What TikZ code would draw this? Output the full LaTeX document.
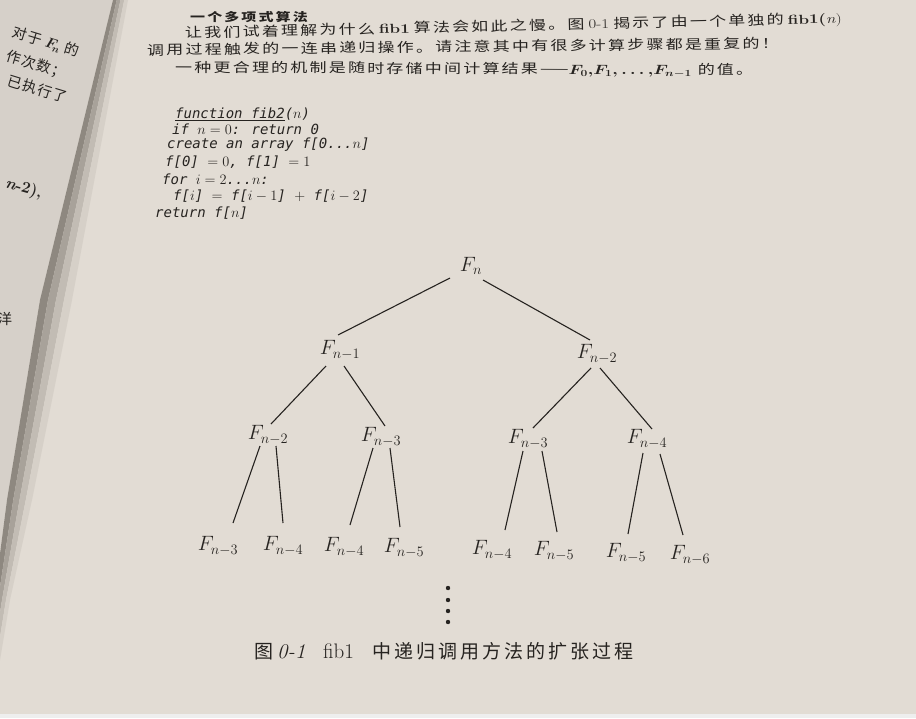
\documentclass[tikz,border=0pt]{standalone}
\usepackage{fontspec}
\newfontfamily\cjkbody[LetterSpace=13]{Noto Sans CJK SC}
\newfontfamily\cjktitle[LetterSpace=14]{Noto Sans CJK SC}
\newfontfamily\cjkcap[LetterSpace=16]{Noto Sans CJK SC}
\newfontfamily\cjkleft[LetterSpace=8]{Noto Sans CJK SC}
\newfontfamily\codefont{DejaVu Sans Mono}
\usetikzlibrary{calc}
\definecolor{ink}{HTML}{262320}
\definecolor{pageR}{HTML}{E2DCD4}
\definecolor{pageL}{HTML}{D6D0C9}
\definecolor{shA}{HTML}{8E8880}
\definecolor{shB}{HTML}{A8A29A}
\definecolor{shC}{HTML}{C2BCB4}
\definecolor{shD}{HTML}{D6D0C8}
\definecolor{strip}{HTML}{EEEEEE}
\newcommand{\squash}[1]{\scalebox{1}[0.78]{#1}}
\tikzset{
  fnode/.style={font=\fontsize{20}{22}\selectfont, text=ink, inner sep=0pt},
  fbig/.style={font=\fontsize{21}{23}\selectfont, text=ink, inner sep=0pt},
  treeedge/.style={draw=ink, line width=1.1pt},
  bodyline/.style={anchor=base west, inner sep=0pt, text=ink, font=\fontsize{17}{19}\selectfont\cjkbody},
  codeline/.style={anchor=west, inner sep=0pt, text=ink, font=\fontsize{14}{16}\selectfont\codefont\itshape},
  leftline/.style={anchor=east, inner sep=0pt, text=ink, rotate=-17, font=\fontsize{14.5}{17}\selectfont\cjkleft},
}
\begin{document}
\begin{tikzpicture}[x=1pt,y=-1pt]
\useasboundingbox (0,0) rectangle (916,718);
% page backgrounds
\fill[pageR] (0,0) rectangle (916,718);
\fill[pageL] (0,0) -- (113,0) -- (40,300) -- (7,500) -- (-6,600) -- (-15,660) -- (-20,660) -- (-20,0) -- cycle;
\fill[shA] (113,0) -- (40,300) -- (7,500) -- (-6,600) -- (-15,660) -- (-11.25,660) -- (-2,600) -- (13.25,500) -- (48,300) -- (116.75,0) -- cycle;
\fill[shB] (116.75,0) -- (48,300) -- (13.25,500) -- (-2,600) -- (-11.25,660) -- (-7.5,660) -- (2,600) -- (19.5,500) -- (56,300) -- (120.5,0) -- cycle;
\fill[shC] (120.5,0) -- (56,300) -- (19.5,500) -- (2,600) -- (-7.5,660) -- (-3.75,660) -- (6,600) -- (25.75,500) -- (64,300) -- (124.25,0) -- cycle;
\fill[shD] (124.25,0) -- (64,300) -- (25.75,500) -- (6,600) -- (-3.75,660) -- (0,660) -- (10,600) -- (32,500) -- (72,300) -- (128,0) -- cycle;
\fill[strip] (0,714) rectangle (916,718);

% left page fragments
\node[leftline] (lp1) at (79,52) {对于 {\boldmath$F_{\!n}$} 的};
\node[leftline] (lp2) at (66,74) {作次数；};
\node[leftline] (lp3) at (67,98) {已执行了};
\node[leftline, rotate=1, font=\fontsize{16}{18}\selectfont\rmfamily\bfseries] (lp4) at (42,194) {\itshape n\upshape -2),};
\node[anchor=center, inner sep=0pt, text=ink, font=\fontsize{14.5}{17}\selectfont\cjkleft] (lp5) at (5,319) {洋};

% top paragraph
\node[anchor=base west, inner sep=0pt, text=ink, font=\fontsize{15}{17}\selectfont\cjktitle\bfseries] (title) at (190,21) {\squash{一个多项式算法}};
\node[bodyline, rotate=1.3] (p1) at (185,38) {\squash{\makebox[647pt][s]{让我们试着理解为什么 {\rmfamily\bfseries fib1} 算法会如此之慢。图 {\rmfamily 0-1} 揭示了由一个单独的 {\rmfamily\bfseries fib1(\mdseries\itshape n\/\upshape)}}}};
\node[bodyline, rotate=0.6] (p2) at (147,55) {\squash{调用过程触发的一连串递归操作。请注意其中有很多计算步骤都是重复的！}};
\node[bodyline, rotate=-0.3] (p3) at (175,72) {\squash{一种更合理的机制是随时存储中间计算结果——{\boldmath$F_0{,}F_1{,}\ldots{,}F_{n-1}$} 的值。}};

% code
\node[codeline] (c1) at (175,114) {\underline{function fib2}($n$)};
\node[codeline] (c2) at (172,129) {if $n=0$: return 0};
\node[codeline] (c3) at (167,145) {create an array f[0...$n$]};
\node[codeline] (c4) at (165,162) {f[0] $=0$, f[1] $=1$};
\node[codeline] (c5) at (162,179) {for $i=2$...$n$:};
\node[codeline] (c6) at (173,196) {f[$i$] $=$ f[$i-1$] $+$ f[$i-2$]};
\node[codeline] (c7) at (155,213) {return f[$n$]};

% tree nodes
\node[fnode] (Fn)  at (471,266) {$F_n$};
\node[fnode] (Fn1) at (340,350) {$F_{n-1}$};
\node[fnode] (Fn2) at (597,354) {$F_{n-2}$};
\node[fnode] (m1) at (268,435) {$F_{n-2}$};
\node[fnode] (m2) at (381,437) {$F_{n-3}$};
\node[fnode] (m3) at (528,439) {$F_{n-3}$};
\node[fnode] (m4) at (647,439) {$F_{n-4}$};
\node[fbig] (b1) at (218,546) {$F_{n-3}$};
\node[fbig] (b2) at (283,546) {$F_{n-4}$};
\node[fbig] (b3) at (344,547) {$F_{n-4}$};
\node[fbig] (b4) at (404,548) {$F_{n-5}$};
\node[fbig] (b5) at (492,550) {$F_{n-4}$};
\node[fbig] (b6) at (554,551) {$F_{n-5}$};
\node[fbig] (b7) at (626,553) {$F_{n-5}$};
\node[fbig] (b8) at (690,555) {$F_{n-6}$};

% tree edges
\draw[treeedge] ($(Fn)+(-21,12)$) -- ($(Fn1)+(-2,-15)$);
\draw[treeedge] ($(Fn)+(12,14)$) -- ($(Fn2)+(-7,-14)$);
\draw[treeedge] ($(Fn1)+(-14,16)$) -- ($(m1)+(3,-11)$);
\draw[treeedge] ($(Fn1)+(4,16)$) -- ($(m2)+(4,-11)$);
\draw[treeedge] ($(Fn2)+(-6,14)$) -- ($(m3)+(5,-11)$);
\draw[treeedge] ($(Fn2)+(3,14)$) -- ($(m4)+(5,-10)$);
\draw[treeedge] ($(m1)+(-8,11)$) -- ($(b1)+(15,-23)$);
\draw[treeedge] ($(m1)+(8,11)$) -- ($(b2)+(0,-23)$);
\draw[treeedge] ($(m2)+(-8,11)$) -- ($(b3)+(6,-22)$);
\draw[treeedge] ($(m2)+(9,11)$) -- ($(b4)+(-4,-21)$);
\draw[treeedge] ($(m3)+(-5,12)$) -- ($(b5)+(13,-20)$);
\draw[treeedge] ($(m3)+(14,12)$) -- ($(b6)+(3,-19)$);
\draw[treeedge] ($(m4)+(-4,14)$) -- ($(b7)+(2,-19)$);
\draw[treeedge] ($(m4)+(13,15)$) -- ($(b8)+(-7,-20)$);

% vertical ellipsis
\foreach \yy in {588,600,611,622} \fill[ink] (448,\yy) circle[radius=2.2];

% caption
\node[anchor=west, inner sep=0pt, text=ink, font=\fontsize{21}{24}\selectfont] (cap) at (254,651)
  {\makebox[23pt][l]{\fontsize{19}{22}\selectfont\cjkcap 图}\makebox[46pt][l]{\itshape 0-1}\makebox[49pt][l]{fib1}{\fontsize{19}{22}\selectfont\cjkcap 中递归调用方法的扩张过程}};
\end{tikzpicture}
\end{document}
